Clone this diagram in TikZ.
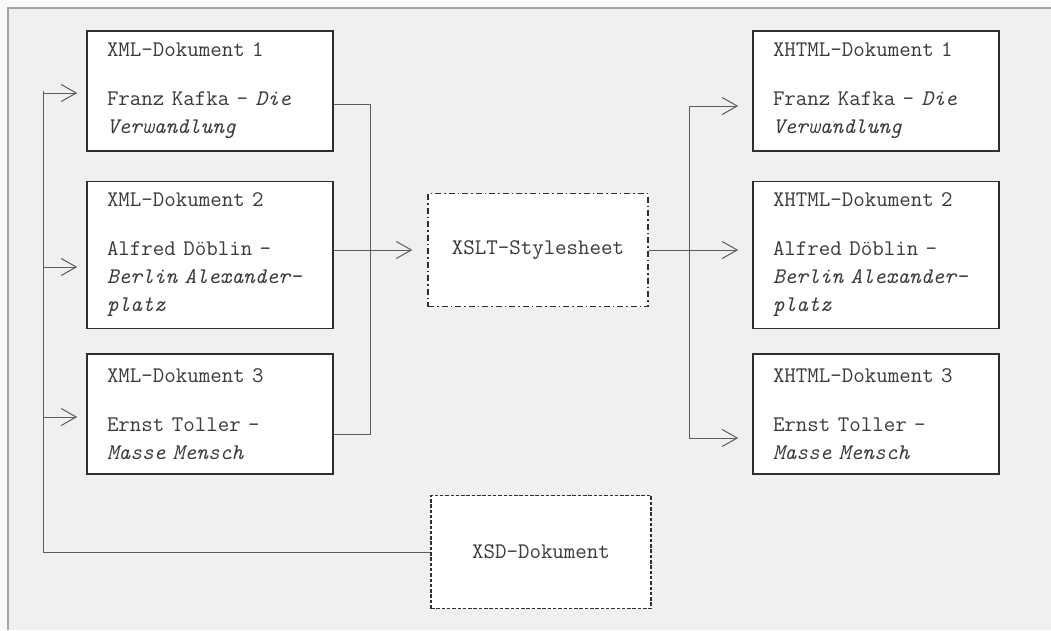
\documentclass[tikz,border=0pt]{standalone}
\usepackage{fontspec}
\usepackage{tikz}
\usetikzlibrary{arrows.meta}
\definecolor{aussen}{HTML}{F9F9F9}
\definecolor{grund}{HTML}{F0F0F0}
\definecolor{rand}{HTML}{A4A4A4}
\definecolor{kasten}{HTML}{2E2E2E}
\definecolor{linie}{HTML}{5C5C5C}
\definecolor{schrift}{HTML}{3A3A3A}
\tikzset{
  doku/.style={draw=kasten,fill=white,line width=1.6pt,text=schrift,
    font={\ttfamily\fontsize{22.3}{28}\selectfont},text width=206pt,
    inner xsep=20pt,inner ysep=0pt,minimum height=120pt,align=left},
  blatt/.style={draw=kasten,fill=white,line width=1.3pt,text=schrift,
    font={\ttfamily\fontsize{22.3}{28}\selectfont},
    minimum width=220pt,minimum height=113pt},
  stil/.style={blatt,dash pattern=on 6pt off 3pt on 1.5pt off 3pt},
  schema/.style={blatt,dash pattern=on 3.5pt off 1.8pt},
  verb/.style={linie,line width=1pt},
  pfeil/.style={verb,-{Straight Barb[length=15pt,width=17pt,line width=1pt]}},
}

\begin{document}
\begin{tikzpicture}[x=1pt,y=-1pt]
  \useasboundingbox (0,0) rectangle (1051,630);
  \fill[aussen] (0,0) rectangle (1051,630);
  \fill[grund] (8,8) rectangle (1051,630);
  \draw[rand,line width=1.3pt] (8,630) -- (8,8) -- (1051,8);
  % Quelldokumente
  \node[doku] (xml1) at (210,91) {XML-Dokument 1\\[21pt]Franz Kafka – \textit{Die}\\\textit{Verwandlung}};
  \node[doku,minimum height=147pt] (xml2) at (210,255) {XML-Dokument 2\\[21pt]Alfred Döblin –\\\textit{Berlin Alexander-}\\\textit{platz}};
  \node[doku] (xml3) at (210,414) {XML-Dokument 3\\[21pt]Ernst Toller –\\\textit{Masse Mensch}};
  % Zieldokumente
  \node[doku] (xhtml1) at (876,91) {XHTML-Dokument 1\\[21pt]Franz Kafka – \textit{Die}\\\textit{Verwandlung}};
  \node[doku,minimum height=147pt] (xhtml2) at (876,255) {XHTML-Dokument 2\\[21pt]Alfred Döblin –\\\textit{Berlin Alexander-}\\\textit{platz}};
  \node[doku] (xhtml3) at (876,414) {XHTML-Dokument 3\\[21pt]Ernst Toller –\\\textit{Masse Mensch}};
  \node[stil] (xslt) at (538,250) {XSLT-Stylesheet};
  \node[schema] (xsd) at (541,552) {XSD-Dokument};
  % Knickpunkte
  \coordinate (links) at (43,558);
  \coordinate (r1) at (370,104);
  \coordinate (r3) at (370,434);
  \coordinate (s1) at (689,106);
  \coordinate (s3) at (689,438);
  % Schema -> Quelldokumente
  \draw[verb] (xsd.west) -| (links |- xml1.west);
  \draw[pfeil,shorten >=9pt] ([yshift=-2pt]links |- xml1.west) -- ([yshift=-2pt]xml1.west);
  \draw[pfeil,shorten >=9pt] ([yshift=-12pt]links |- xml2.west) -- ([yshift=-12pt]xml2.west);
  \draw[pfeil,shorten >=9pt] ([yshift=-3pt]links |- xml3.west) -- ([yshift=-3pt]xml3.west);
  % Quelldokumente -> XSLT
  \draw[verb] (xml1.east |- r1) -- (r1) -- (r3) -- (xml3.east |- r3);
  \draw[pfeil,shorten >=15pt] (xml2.east |- xslt.west) -- (xslt.west);
  % XSLT -> Zieldokumente
  \draw[pfeil,shorten >=14pt] (xslt.east) -- (xhtml2.west |- xslt.east);
  \draw[pfeil,shorten >=14pt] (s3) -- (s1) -- (xhtml1.west |- s1);
  \draw[pfeil,shorten >=14pt] (s3) -- (xhtml3.west |- s3);
\end{tikzpicture}
\end{document}
